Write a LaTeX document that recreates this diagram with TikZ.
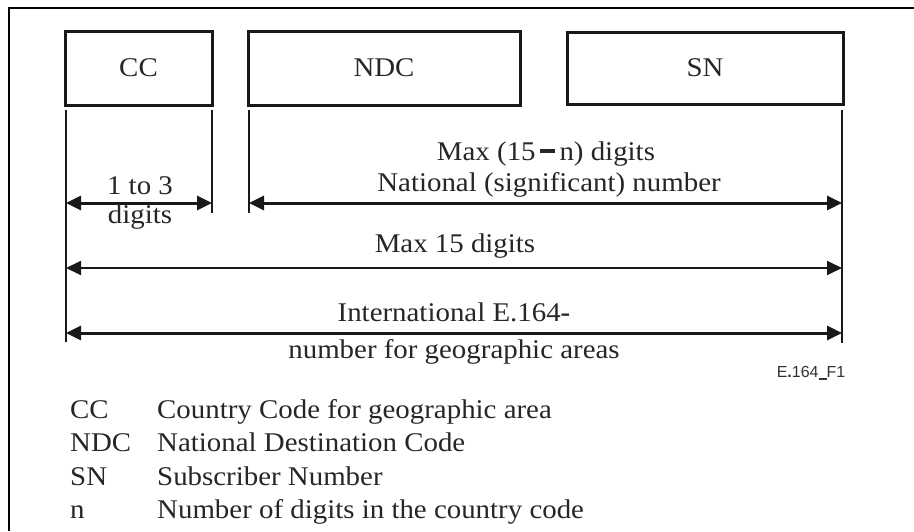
\documentclass[tikz,border=0pt]{standalone}
\usepackage{fontspec}
\setmainfont{Liberation Serif}[FakeStretch=1.07]
\newfontfamily\figtag{Liberation Sans}
\usetikzlibrary{arrows.meta}

\tikzset{
  frameline/.style={line width=2.6pt, black},
  field/.style={draw, line width=3pt, black!90, inner sep=0pt,
                font=\fontsize{27}{31}\selectfont, text=black!85},
  tick/.style={line width=1.4pt, black!90},
  span/.style={line width=3pt, black!90,
               {Triangle[length=15pt,width=14pt]}-{Triangle[length=15pt,width=14pt]}},
  thinspan/.style={span, line width=1.8pt},
  lbl/.style={inner sep=0pt, font=\fontsize{27}{31}\selectfont, text=black!85},
  legkey/.style={anchor=base west, inner sep=0pt, font=\fontsize{27}{32}\selectfont, text=black!85},
}

\begin{document}
\begin{tikzpicture}[x=1pt, y=-1pt]
  \useasboundingbox (0,0) rectangle (914,531);
  \fill[white] (0,0) rectangle (914,531);

  % page frame (top and left edges)
  \draw[frameline] (914,8) -- (9,8) -- (9,531);

  % the three number fields
  \node[field, minimum width=147pt, minimum height=74pt] (cc)  at (138.5,68) {CC};
  \node[field, minimum width=272pt, minimum height=74pt] (ndc) at (384,68)   {NDC};
  \node[field, minimum width=276pt, minimum height=72pt] (sn)  at (705,68)   {SN};

  % extension lines
  \coordinate (e1a) at (66,110);  \coordinate (e1b) at (66,342);
  \coordinate (e2a) at (212,110); \coordinate (e2b) at (212,213);
  \coordinate (e3a) at (249,110); \coordinate (e3b) at (249,213);
  \coordinate (e4a) at (842,110); \coordinate (e4b) at (842,343);
  \foreach \e in {1,2,3,4} \draw[tick] (e\e a) -- (e\e b);

  % dimension arrows
  \coordinate (d1l) at (66,203);  \coordinate (d1r) at (212,203);
  \coordinate (d2l) at (249,203); \coordinate (d2r) at (842,203);
  \coordinate (d3l) at (66,268);  \coordinate (d3r) at (842,268);
  \coordinate (d4l) at (66,333);  \coordinate (d4r) at (842,333);
  \draw[span] (d1l) -- (d1r);
  \draw[span] (d2l) -- (d2r);
  \draw[thinspan] (d3l) -- (d3r);
  \draw[span] (d4l) -- (d4r);

  % dimension labels
  \node[lbl] (l13)  at (140,186) {1 to 3};
  \node[lbl] (ldg)  at (140,217) {digits};
  \node[lbl] (lmx)  at (546,154) {Max (15\,\rule[0.28em]{0.55em}{0.13em}\,n) digits};
  \node[lbl] (lnat) at (549,185) {National (significant) number};
  \node[lbl] (l15)  at (455,246) {Max 15 digits};
  \node[lbl] (lint) at (454,312) {International E.164\textbf{-}};
  \node[lbl] (lgeo) at (454,352) {number for geographic areas};

  \node[inner sep=0pt, font=\figtag\fontsize{16}{19}\selectfont, text=black!80] (tag)
    at (811,373) {E\textbf{.}164\rule[-0.12em]{0.5em}{0.12em}F1};

  % legend
  \foreach \k/\d/\y [count=\i] in {CC/Country Code for geographic area/418,
                                   NDC/National Destination Code/451,
                                   SN/Subscriber Number/485,
                                   n/Number of digits in the country code/518} {
    \node[legkey] (key\i) at (70,\y) {\k};
    \node[legkey] (txt\i) at (157,\y) {\d};
  }
\end{tikzpicture}
\end{document}
